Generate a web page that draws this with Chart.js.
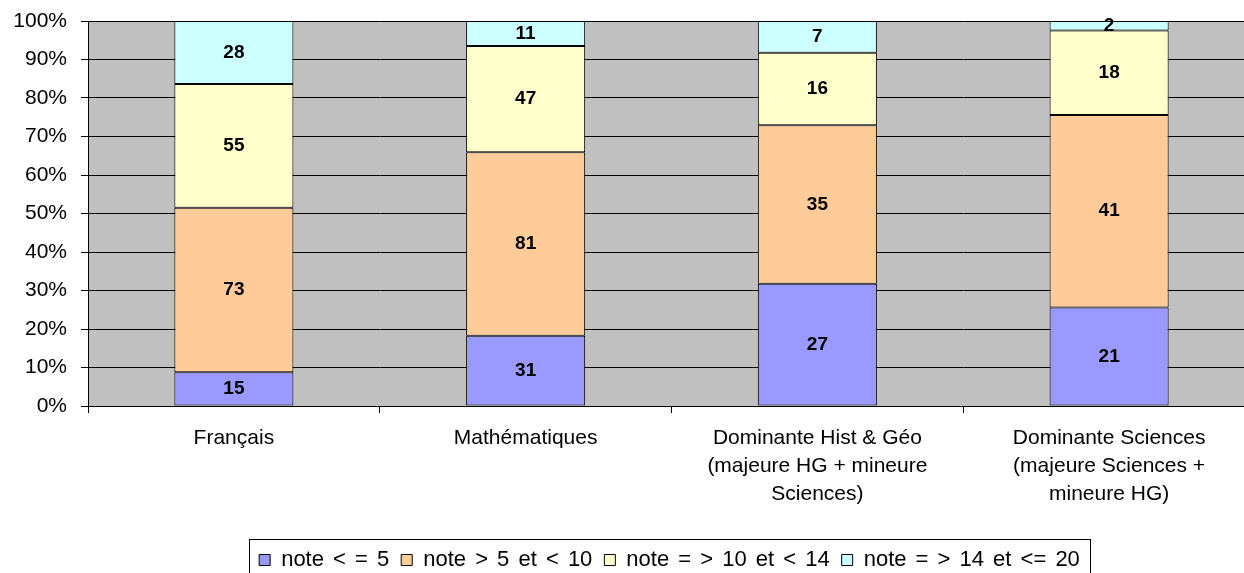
<!DOCTYPE html>
<html lang="fr">
<head>
<meta charset="utf-8">
<title>Répartition des notes</title>
<script src="https://cdn.jsdelivr.net/npm/chart.js@4.4.1/dist/chart.umd.min.js"></script>
<style>
    html, body { margin: 0; padding: 0; background: #ffffff; overflow: hidden; }
    #wrap { width: 1300px; height: 581px; }
</style>
</head>
<body>
<div id="wrap"><canvas id="chart" width="1300" height="581"></canvas></div>
<script>
const categories = [
    'Français',
    'Mathématiques',
    ['Dominante Hist & Géo', '(majeure HG + mineure', 'Sciences)'],
    ['Dominante Sciences', '(majeure Sciences +', 'mineure HG)'],
];
const seriesNames = ['note < = 5', 'note > 5 et < 10', 'note = > 10 et < 14', 'note = > 14 et <= 20'];
const noteLow = [15, 31, 27, 21];
const noteMid = [73, 81, 35, 41];
const noteHigh = [55, 47, 16, 18];
const noteTop = [28, 11, 7, 2];
const seriesColors = ['#9999ff', '#ffcc99', '#ffffcc', '#ccffff'];
const yTickStep = 10;

const counts = [noteLow, noteMid, noteHigh, noteTop];
const totals = categories.map((_, i) => counts.reduce((sum, serie) => sum + serie[i], 0));

Chart.defaults.font.family = '"Liberation Sans", Arial, sans-serif';
Chart.defaults.color = '#000000';

// grey plot area like the old Excel charts
const plotBackground = {
    id: 'plotBackground',
    beforeDraw(chart) {
        const { ctx, chartArea: area } = chart;
        ctx.save();
        ctx.fillStyle = '#c0c0c0';
        ctx.fillRect(area.left, area.top, area.right - area.left, area.bottom - area.top);
        ctx.restore();
    },
};

// raw counts written in the middle of each segment
const segmentLabels = {
    id: 'segmentLabels',
    afterDatasetsDraw(chart) {
        const { ctx } = chart;
        ctx.save();
        ctx.font = 'bold 19px "Liberation Sans", Arial, sans-serif';
        ctx.fillStyle = '#000000';
        ctx.textAlign = 'center';
        ctx.textBaseline = 'middle';
        chart.data.datasets.forEach((dataset, k) => {
            chart.getDatasetMeta(k).data.forEach((bar, i) => {
                const { x, y, base } = bar.getProps(['x', 'y', 'base'], true);
                ctx.fillText(String(dataset.counts[i]), x, (y + base) / 2);
            });
        });
        ctx.restore();
    },
};

// legend is centred on the full (uncropped) chart width and boxed
const legendFrame = {
    id: 'legendFrame',
    afterInit(chart) {
        const legend = chart.legend;
        ['fit', 'draw'].forEach((name) => {
            const original = legend[name].bind(legend);
            legend[name] = (...args) => {
                chart.ctx.wordSpacing = '3px';
                original(...args);
                chart.ctx.wordSpacing = '0px';
            };
        });
    },
    afterLayout(chart) {
        const legend = chart.legend;
        legend.left = 0;
        legend.right = 1339;
        legend.width = 1339;
    },
    afterDraw(chart) {
        const legend = chart.legend;
        const padding = legend.options.labels.padding;
        const boxes = legend.legendHitBoxes;
        const total = boxes.reduce((sum, box) => sum + box.width, 0) + padding * (boxes.length - 1);
        const center = (legend.left + legend.right) / 2;
        const left = Math.round(center - total / 2 - 10) + 0.5;
        const right = Math.round(center + total / 2 + 10) + 0.5;
        const top = Math.round(legend.top + 2) + 0.5;
        const { ctx } = chart;
        ctx.save();
        ctx.strokeStyle = '#000000';
        ctx.lineWidth = 1;
        ctx.strokeRect(left, top, right - left, legend.bottom + 10 - top);
        ctx.restore();
    },
};

new Chart(document.getElementById('chart'), {
    type: 'bar',
    data: {
        labels: categories,
        datasets: counts.map((values, k) => ({
            label: seriesNames[k],
            data: values.map((value, i) => (value / totals[i]) * 100),
            counts: values,
            backgroundColor: seriesColors[k],
            borderColor: '#000000',
            borderWidth: 1,
            borderSkipped: false,
            categoryPercentage: 1,
            barPercentage: 0.408,
        })),
    },
    options: {
        responsive: false,
        animation: false,
        layout: {
            padding: { top: 21, left: 0, right: 45, bottom: 0 },
        },
        plugins: {
            legend: {
                position: 'bottom',
                labels: {
                    boxWidth: 11,
                    boxHeight: 11,
                    padding: 12,
                    color: '#000000',
                    font: { size: 22 },
                },
            },
            tooltip: { enabled: false },
        },
        scales: {
            x: {
                stacked: true,
                offset: true,
                grid: {
                    display: true,
                    offset: true,
                    drawOnChartArea: false,
                    drawTicks: true,
                    tickLength: 7,
                    color: '#000000',
                },
                border: { display: true, color: '#000000' },
                ticks: {
                    color: '#000000',
                    padding: 11,
                    maxRotation: 0,
                    autoSkip: false,
                    font: { size: 21, lineHeight: 1.333 },
                },
                afterFit(scale) {
                    scale.height = 131;
                    scale.paddingLeft = 0;
                    scale.paddingRight = 0;
                },
            },
            y: {
                stacked: true,
                min: 0,
                max: 100,
                ticks: {
                    stepSize: yTickStep,
                    padding: 14,
                    color: '#000000',
                    font: { size: 21 },
                    callback: (value) => `${value}%`,
                },
                grid: {
                    color: '#000000',
                    tickLength: 7,
                },
                border: { display: true, color: '#000000' },
                afterFit(scale) {
                    scale.width = 88;
                    scale.paddingTop = 0;
                    scale.paddingBottom = 0;
                },
            },
        },
    },
    plugins: [plotBackground, segmentLabels, legendFrame],
});
</script>
</body>
</html>
